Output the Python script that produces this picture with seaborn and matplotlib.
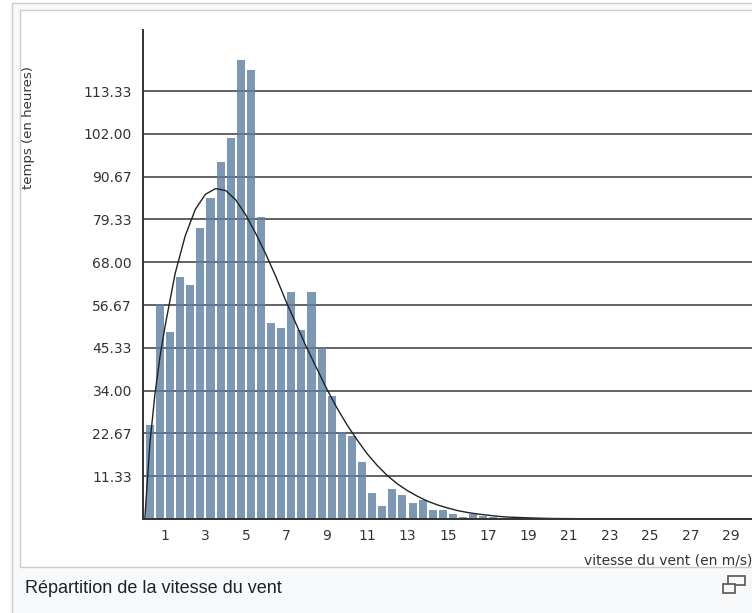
import numpy as np
import pandas as pd
import matplotlib
matplotlib.use("Agg")
import matplotlib.pyplot as plt
from matplotlib.patches import Rectangle
import seaborn as sns

# Hours recorded per 0.5 m/s wind-speed class (0-20 m/s)
bin_width = 0.5
bin_starts = np.arange(0, 20, bin_width)
hours = [25, 57, 49.5, 64, 62, 77, 85, 94.5, 101, 121.5,
         119, 80, 52, 50.5, 60, 50, 60, 45.5, 32.5, 23,
         22, 15, 7, 3.5, 8, 6.4, 4.3, 5, 2.4, 2.4,
         1.3, 0.5, 1.3, 0.8, 0.5, 0.3, 0.2, 0, 0, 0]

# Fitted distribution curve (hours per class)
curve_speed = [0, 0.25, 0.5, 0.75, 1, 1.5, 2, 2.5, 3, 3.5, 4, 4.5, 5, 5.5,
               6, 6.5, 7, 7.5, 8, 8.5, 9, 9.5, 10, 10.5, 11, 11.5, 12, 12.5,
               13, 13.5, 14, 14.5, 15, 15.5, 16, 16.5, 17, 17.5, 18, 19, 20,
               22, 30]
curve_hours = [0, 20, 33, 43, 51, 65, 75, 82, 86, 87.5, 87, 84.5, 80.5, 75.5,
               70, 64, 57.5, 51.5, 45.5, 40, 34.5, 29.5, 25, 21, 17.3, 14.2,
               11.5, 9.3, 7.5, 6, 4.7, 3.7, 2.9, 2.2, 1.7, 1.3, 1.0, 0.7, 0.5,
               0.3, 0.15, 0.05, 0]

y_ticks = [11.33, 22.67, 34.00, 45.33, 56.67, 68.00, 79.33, 90.67, 102.00, 113.33]
x_major = list(range(1, 30, 2))
x_minor = list(range(2, 31, 2))

caption = "Répartition de la vitesse du vent"
x_title = "vitesse du vent (en m/s)"
y_title = "temps (en heures)"

sns.set_style("white")
plt.rcParams["font.family"] = ["DejaVu Sans"]

W, H = 752, 613
fig = plt.figure(figsize=(W / 100, H / 100), dpi=100, facecolor="white")


def px_rect(x0, y0, x1, y1, **kw):
    r = Rectangle((x0 / W, 1 - y1 / H), (x1 - x0) / W, (y1 - y0) / H,
                  transform=fig.transFigure, **kw)
    fig.add_artist(r)
    return r


# thumbnail frame
px_rect(12, 3, 800, 700, facecolor="#f8f9fa", edgecolor="#c8ccd1", lw=1.0, zorder=-10)
px_rect(20, 10, 800, 567, facecolor="white", edgecolor="#c8ccd1", lw=1.0, zorder=-9)

ax = fig.add_axes([143 / W, (H - 519) / H, (W - 143) / W, (519 - 30) / H])
ax.set_facecolor("none")

hist_df = pd.DataFrame({
    "speed": bin_starts + bin_width / 2,
    "hours": hours,
})
curve_df = pd.DataFrame({"speed": curve_speed, "hours": curve_hours})

sns.histplot(data=hist_df, x="speed", weights="hours",
             binwidth=bin_width, binrange=(0, 20), shrink=0.8,
             color="#5c7fa2", alpha=0.8, linewidth=0,
             ax=ax, zorder=2)
sns.lineplot(data=curve_df, x="speed", y="hours", color="#222222", lw=1.0,
             ax=ax, zorder=4)

ax.set_xlim(-0.09, 30.05)
ax.set_ylim(0, 129.5)

for v in y_ticks:
    ax.axhline(v, color="#626262", lw=1.4, zorder=1)

ax.set_yticks(y_ticks)
ax.set_yticklabels([f"{v:.2f}" for v in y_ticks])
ax.set_xticks(x_major)
ax.set_xticklabels([str(v) for v in x_major])
ax.set_xticks(x_minor, minor=True)

ax.tick_params(axis="both", which="both", direction="out", length=4, width=1,
               color="#333333", labelcolor="#333333", labelsize=10, pad=3.5)
ax.tick_params(axis="y", length=5, pad=3)

for side in ("top", "right"):
    ax.spines[side].set_visible(False)
for side in ("left", "bottom"):
    ax.spines[side].set_color("#333333")
    ax.spines[side].set_linewidth(1.4)
    ax.spines[side].set_zorder(5)

ax.set_xlabel(x_title, loc="right", fontsize=10, color="#333333", labelpad=7)
ax.set_ylabel(y_title, fontsize=9.5, color="#333333")
ax.yaxis.set_label_coords((35 - 143) / (W - 143), (519 - 128) / (519 - 30))

# caption below the chart
fig.text(25 / W, 1 - 593 / H, caption, fontsize=13, color="#202122",
         family=["Liberation Sans", "DejaVu Sans"], ha="left", va="baseline")

# enlarge icon
px_rect(728, 576, 745, 585, facecolor="none", edgecolor="#555555", lw=1.2, zorder=5)
px_rect(723, 584, 735, 593, facecolor="#f8f9fa", edgecolor="#555555", lw=1.2, zorder=6)

fig.savefig("out.png", dpi=100, facecolor=fig.get_facecolor())
